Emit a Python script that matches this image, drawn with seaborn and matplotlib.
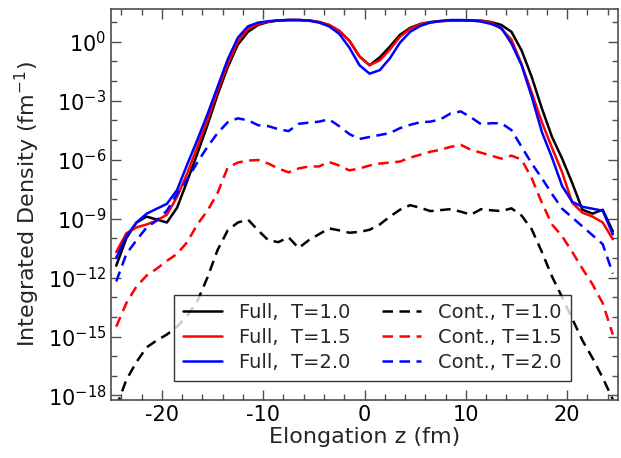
# -*- coding: utf-8 -*-
# integrated density along elongation, full vs continuum part
import numpy as np
import pandas as pd
import seaborn as sns
from matplotlib import pyplot as plt
from matplotlib import ticker

# elongation grid (fm)
z = np.arange(-24.5, 25.0, 1.0)

# log10 of integrated density (fm^-1)
full_T10 = [-11.4, -10.0, -9.2, -8.9, -9.05, -9.2, -8.45, -7.1, -5.7, -4.25,
            -2.7, -1.3, -0.15, 0.5, 0.85, 1.0, 1.08, 1.1, 1.1, 1.08,
            1.0, 0.85, 0.55, 0.05, -0.75, -1.2, -0.8, -0.25, 0.35, 0.7,
            0.9, 1.0, 1.05, 1.07, 1.08, 1.08, 1.07, 1.0, 0.85, 0.5,
            -0.45, -1.8, -3.4, -4.85, -5.95, -7.2, -8.55, -8.75, -8.55, -9.65]
full_T15 = [-10.7, -9.75, -9.45, -9.3, -9.1, -8.8, -7.9, -6.7, -5.35, -4.0,
            -2.5, -1.15, 0.0, 0.65, 0.9, 1.02, 1.08, 1.1, 1.1, 1.08,
            1.0, 0.85, 0.55, 0.05, -0.75, -1.2, -0.95, -0.4, 0.25, 0.65,
            0.88, 0.98, 1.04, 1.07, 1.08, 1.08, 1.06, 0.98, 0.65, 0.1,
            -1.15, -2.6, -4.1, -5.4, -6.65, -8.2, -8.7, -8.9, -9.2, -10.05]
full_T20 = [-11.0, -9.9, -9.2, -8.75, -8.5, -8.25, -7.55, -6.25, -5.0, -3.7,
            -2.3, -0.9, 0.2, 0.78, 0.97, 1.04, 1.08, 1.1, 1.1, 1.07,
            0.97, 0.78, 0.4, -0.3, -1.2, -1.63, -1.45, -0.85, -0.05, 0.5,
            0.8, 0.97, 1.05, 1.1, 1.1, 1.08, 1.02, 0.9, 0.7, -0.1,
            -1.2, -2.8, -4.6, -5.9, -7.35, -8.15, -8.4, -8.5, -8.6, -9.8]
cont_T10 = [-18.6, -17.2, -16.3, -15.55, -15.2, -14.9, -14.5, -13.95, -13.2, -12.0,
            -10.6, -9.6, -9.2, -9.05, -9.6, -10.1, -10.2, -9.95, -10.5, -10.1,
            -9.8, -9.5, -9.6, -9.72, -9.68, -9.57, -9.3, -8.9, -8.55, -8.32,
            -8.45, -8.62, -8.57, -8.52, -8.65, -8.8, -8.52, -8.58, -8.62, -8.48,
            -8.85, -9.55, -10.7, -11.95, -13.0, -14.1, -15.2, -16.1, -17.1, -18.2]
cont_T15 = [-14.5, -13.3, -12.45, -11.9, -11.55, -11.15, -10.8, -10.2, -9.3, -8.6,
            -7.7, -6.4, -6.15, -6.05, -6.02, -6.2, -6.45, -6.65, -6.45, -6.35,
            -6.35, -6.12, -6.3, -6.55, -6.45, -6.3, -6.2, -6.15, -6.1, -5.9,
            -5.75, -5.6, -5.5, -5.35, -5.25, -5.5, -5.65, -5.8, -5.95, -5.8,
            -6.0, -6.95, -8.2, -9.3, -9.9, -10.7, -11.55, -12.35, -13.3, -14.9]
cont_T20 = [-12.2, -10.8, -10.1, -9.45, -9.1, -8.6, -7.75, -7.0, -6.15, -5.35,
            -4.65, -4.1, -3.9, -4.0, -4.25, -4.3, -4.45, -4.55, -4.18, -4.12,
            -4.07, -3.95, -4.3, -4.7, -4.95, -4.85, -4.75, -4.65, -4.4, -4.23,
            -4.1, -4.07, -3.95, -3.65, -3.55, -3.85, -4.2, -4.15, -4.15, -4.5,
            -5.35, -6.2, -6.95, -7.75, -8.5, -8.95, -9.4, -9.85, -10.3, -11.8]

labels = ['Full,  T=1.0', 'Full,  T=1.5', 'Full,  T=2.0',
          'Cont., T=1.0', 'Cont., T=1.5', 'Cont., T=2.0']
series = [full_T10, full_T15, full_T20, cont_T10, cont_T15, cont_T20]
colors = ['black', 'red', 'blue', 'black', 'red', 'blue']
styles = ['-', '-', '-', '--', '--', '--']

sns.set_style("ticks")
plt.rcParams['font.family'] = ['DejaVu Sans']
plt.rcParams['mathtext.fontset'] = 'dejavusans'
plt.rcParams['axes.unicode_minus'] = False

fig, ax = plt.subplots(figsize=(6.21, 4.58), dpi=100)
fig.subplots_adjust(left=0.179, right=0.995, bottom=0.127, top=0.980)

for lab, vals, c, ls in zip(labels, series, colors, styles):
    df = pd.DataFrame({'z': z, 'rho': 10.0 ** np.array(vals)})
    sns.lineplot(data=df, x='z', y='rho', color=c, label=lab, lw=1.8, ax=ax)
    if ls == '--':
        ax.lines[-1].set_linestyle('--')
        ax.lines[-1].set_dashes((4.2, 2.6))

ax.set_yscale('log')
ax.set_xlim(-25, 25)
ax.set_ylim(6e-19, 45)

ax.xaxis.set_major_locator(ticker.MultipleLocator(10))
ax.xaxis.set_minor_locator(ticker.MultipleLocator(2))
ax.yaxis.set_major_locator(ticker.FixedLocator([10.0 ** k for k in range(-18, 1, 3)]))
ax.yaxis.set_minor_locator(ticker.FixedLocator([10.0 ** k for k in range(-19, 3)]))
ax.yaxis.set_minor_formatter(ticker.NullFormatter())

ax.tick_params(which='both', direction='in', top=True, right=True, colors='0.3',
               labelcolor='black', labelsize=15)
ax.tick_params(which='major', length=7, width=1)
ax.tick_params(which='minor', length=4, width=1)
for sp in ax.spines.values():
    sp.set_color('0.3')
    sp.set_linewidth(1.2)

ax.set_xlabel('Elongation z (fm)', fontsize=16, labelpad=2)
ax.set_ylabel('Integrated Density (fm$^{-1}$)', fontsize=16)

leg = ax.legend(ncol=2, loc='lower left', bbox_to_anchor=(0.124, 0.049),
                borderaxespad=0, fontsize=14, fancybox=False, frameon=True,
                handlelength=2.0, columnspacing=1.6, labelspacing=0.3,
                borderpad=0.45, handletextpad=0.9)
leg.get_frame().set_edgecolor('black')
leg.get_frame().set_linewidth(1.0)

plt.savefig('out.png', dpi=100)
